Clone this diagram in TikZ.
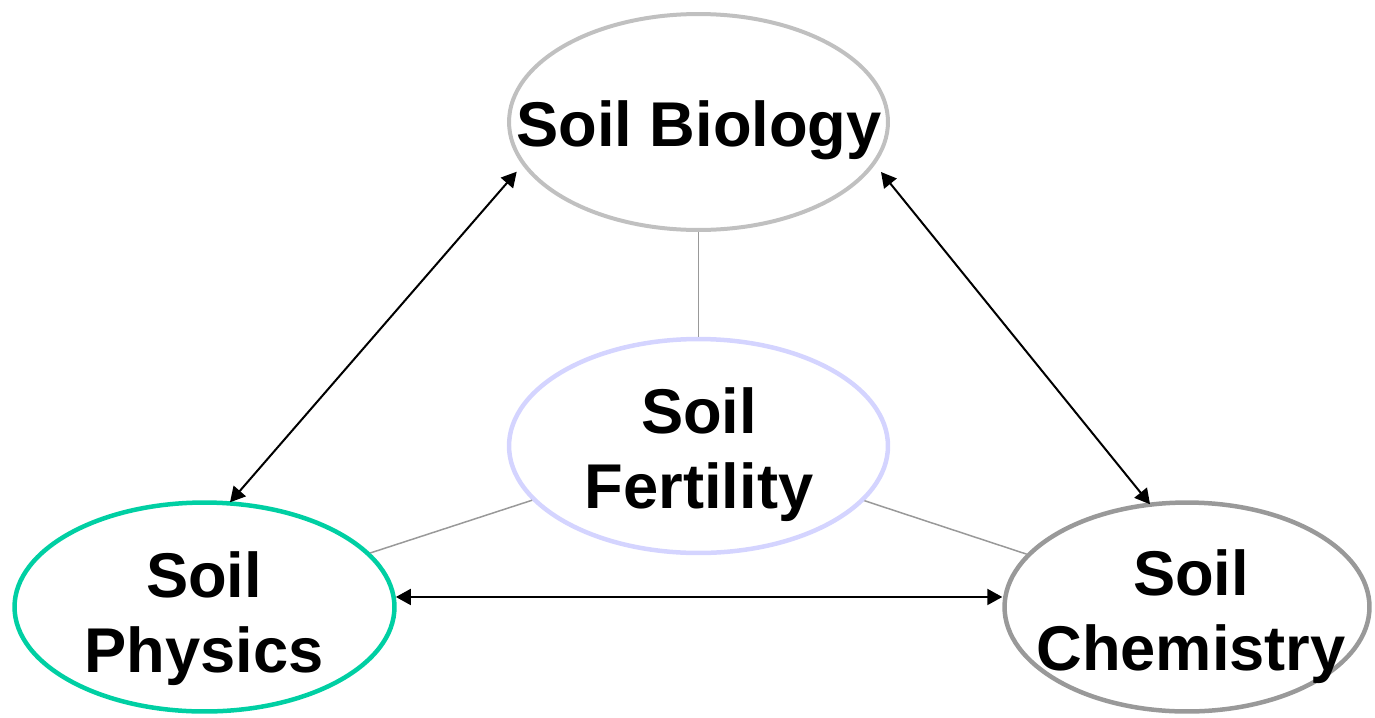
\documentclass[tikz,border=0pt]{standalone}
\usepackage{fontspec}
\setmainfont{Liberation Sans}
\usepackage{xcolor}
\usetikzlibrary{shapes.geometric, arrows.meta, positioning}

\definecolor{biogray}{HTML}{C0C0C0}
\definecolor{fertblue}{HTML}{D4D4FF}
\definecolor{phyteal}{HTML}{00CFA3}
\definecolor{chemgray}{HTML}{999999}
\definecolor{linkgray}{HTML}{999999}

\tikzset{
  area/.style={ellipse, draw, inner sep=0pt, line width=0.09cm},
  txt/.style={font=\fontsize{36}{42.5}\selectfont\bfseries, align=center, inner sep=0pt, text depth=0pt},
  link/.style={draw=linkgray, line width=0.03cm},
  both/.style={{Triangle[length=0.3cm,width=0.32cm]}-{Triangle[length=0.3cm,width=0.32cm]}, line width=0.04cm},
}

\begin{document}
\begin{tikzpicture}[x=0.02cm, y=-0.02cm]
\useasboundingbox (0,0) rectangle (1375,717);

\node[area, draw=biogray, line width=0.08cm, minimum width=7.58cm, minimum height=4.32cm] (bio) at (698.5,122) {};
\node[area, draw=fertblue, minimum width=7.58cm, minimum height=4.28cm] (fert) at (698.5,446) {};
\node[area, draw=phyteal, minimum width=7.6cm, minimum height=4.18cm] (phy) at (204.5,607) {};
\node[area, draw=chemgray, minimum width=7.3cm, minimum height=4.18cm] (chem) at (1187,607) {};

\node[txt] (biotxt) at (699,124) {Soil Biology};
\node[txt] (ferttxt) at (699,448) {Soil\\Fertility};
\node[txt] (phytxt) at (204,612) {Soil\\Physics};
\node[txt] (chemtxt) at (1191,610) {Soil\\Chemistry};

\draw[link] (bio) -- (fert);
\draw[link] (fert) -- (phy);
\draw[link] (fert) -- (chem);

\coordinate (biosw) at ([shift={(-181.8,49.7)}]bio.center);
\coordinate (biose) at ([shift={(182.5,50)}]bio.center);
\draw[both] (biosw) -- ([xshift=0.51cm, yshift=-0.04cm]phy.north);
\draw[both] (biose) -- ([xshift=-0.74cm, yshift=-0.08cm]chem.north);
\draw[both] (phy.3.3) -- (phy.3.3 -| chem.west);
\end{tikzpicture}
\end{document}
